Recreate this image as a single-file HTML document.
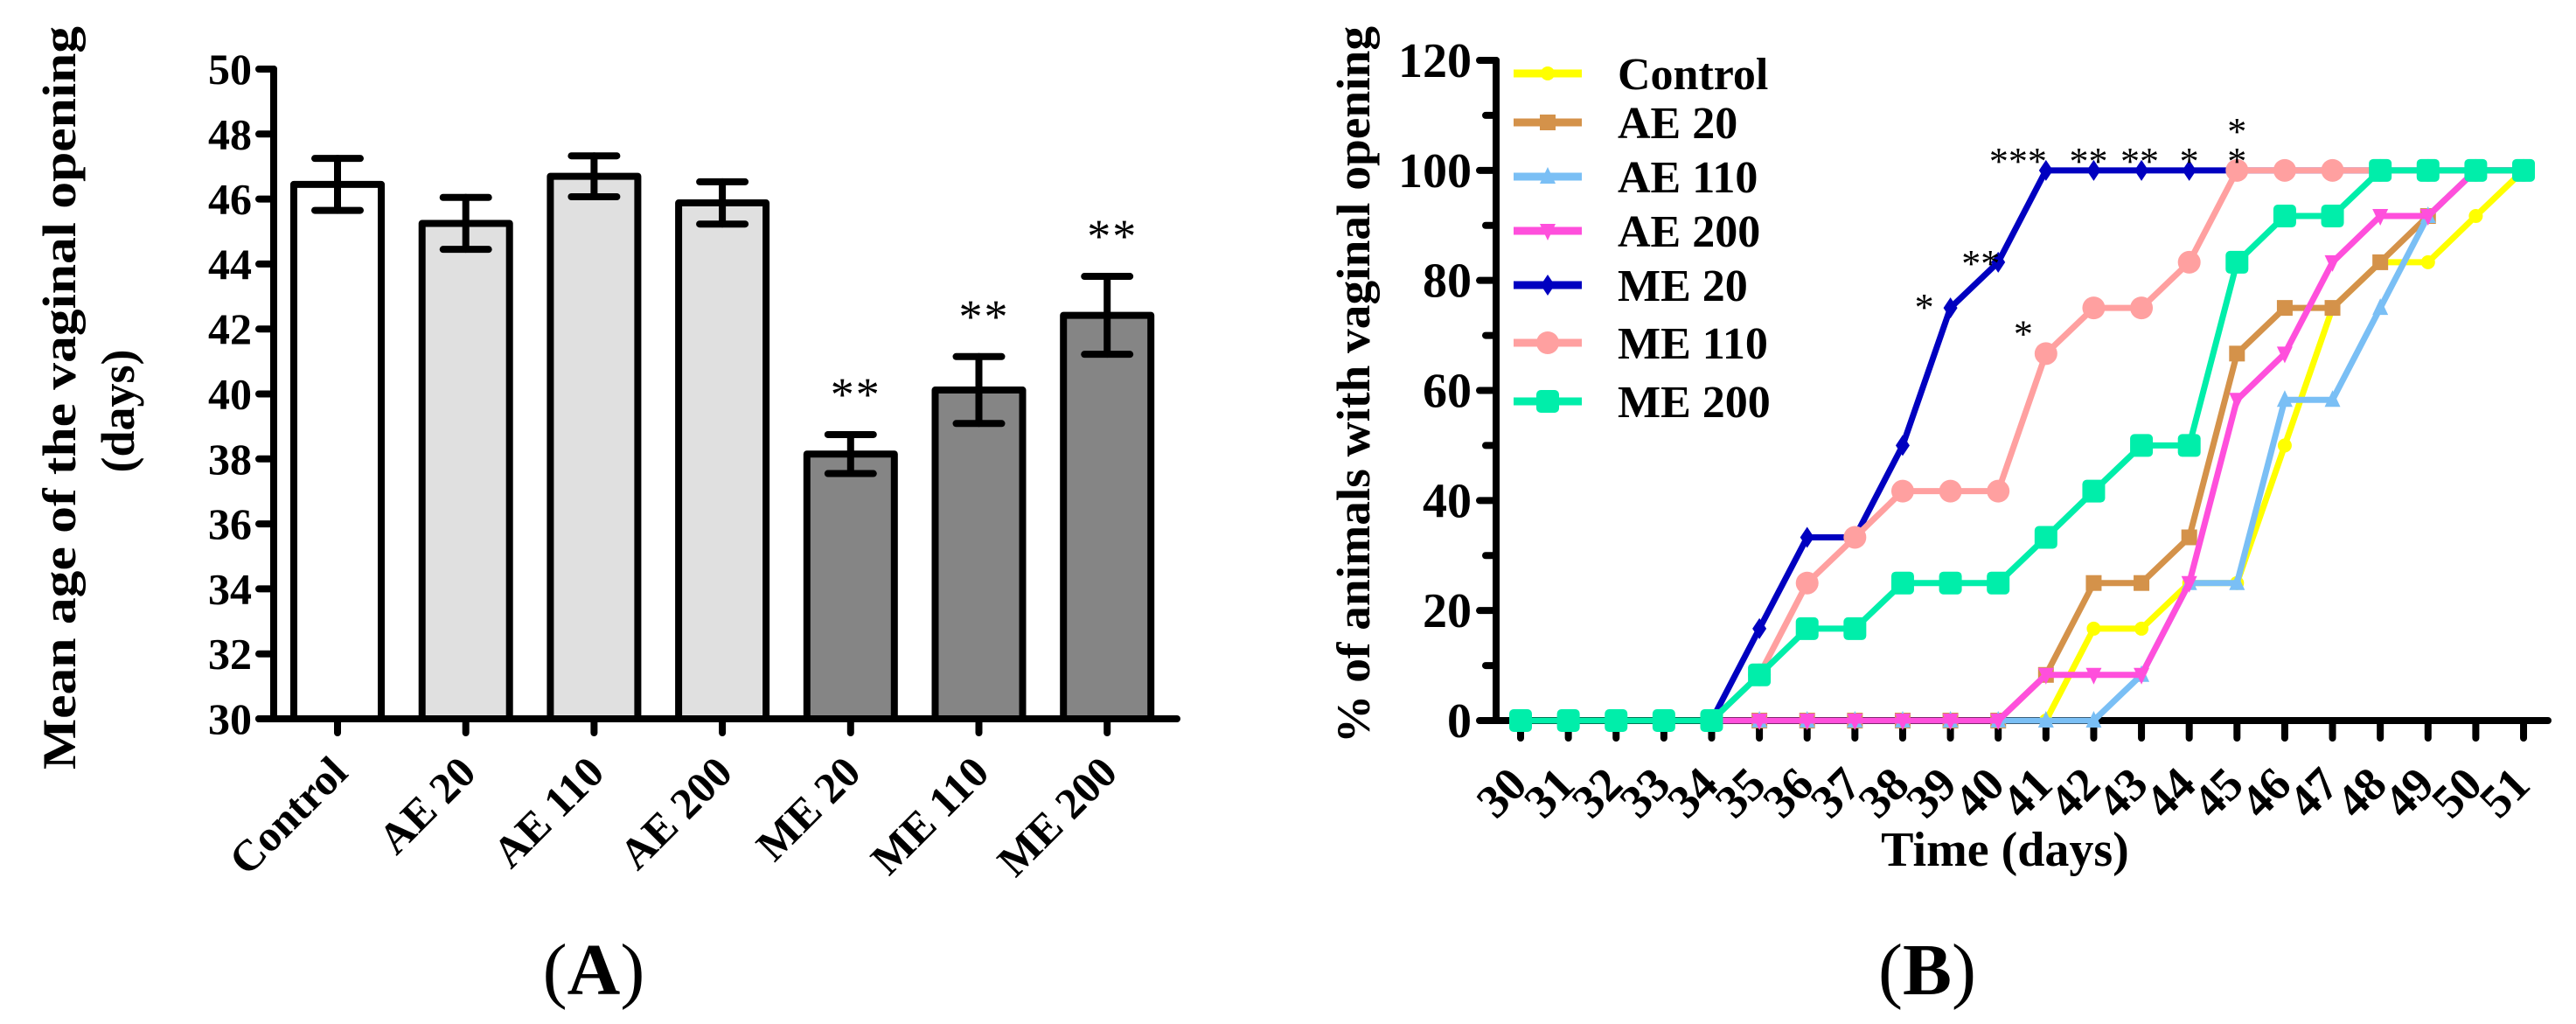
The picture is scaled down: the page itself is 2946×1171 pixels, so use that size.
<!DOCTYPE html>
<html><head><meta charset="utf-8"><style>
html,body{margin:0;padding:0;background:#fff;}
svg{display:block;font-family:"Liberation Serif",serif;}
</style></head><body>
<svg id="fig" width="2946" height="1171" viewBox="0 0 2946 1171" xmlns="http://www.w3.org/2000/svg">
<g id="chartA"></g>
<g id="chartB"></g>
</svg>
<script>
// ---- Chart A data ----
const barCategories = ["Control","AE 20","AE 110","AE 200","ME 20","ME 110","ME 200"];
const barMeans = [46.45, 45.25, 46.7, 45.88, 38.15, 40.12, 42.42];
const barErrors = [0.8, 0.8, 0.63, 0.65, 0.6, 1.03, 1.2];
const barFills = ["#ffffff","#e0e0e0","#e0e0e0","#e0e0e0","#858585","#858585","#858585"];
const barStars = ["","","","","**","**","**"];
const barYTicks = [30,32,34,36,38,40,42,44,46,48,50];

// ---- Chart B data ----
const days = [30,31,32,33,34,35,36,37,38,39,40,41,42,43,44,45,46,47,48,49,50,51];
const seriesNames = ["Control","AE 20","AE 110","AE 200","ME 20","ME 110","ME 200"];
const sControl = [0,0,0,0,0,0,0,0,0,0,0,0,16.7,16.7,25,25,50,75,83.3,83.3,91.7,100];
const sAE20 = [0,0,0,0,0,0,0,0,0,0,0,8.3,25,25,33.3,66.7,75,75,83.3,91.7,100,100];
const sAE110 = [0,0,0,0,0,0,0,0,0,0,0,0,0,8.3,25,25,58.3,58.3,75,91.7,100,100];
const sAE200 = [0,0,0,0,0,0,0,0,0,0,0,8.3,8.3,8.3,25,58.3,66.7,83.3,91.7,91.7,100,100];
const sME20 = [0,0,0,0,0,16.7,33.3,33.3,50,75,83.3,100,100,100,100,100,100,100,100,100,100,100];
const sME110 = [0,0,0,0,0,8.3,25,33.3,41.7,41.7,41.7,66.7,75,75,83.3,100,100,100,100,100,100,100];
const sME200 = [0,0,0,0,0,8.3,16.7,16.7,25,25,25,33.3,41.7,50,50,83.3,91.7,91.7,100,100,100,100];
const lineYTicks = [0,20,40,60,80,100,120];
const starDays = [39,40,41,42,43,44,45,45];
const starValues = [75,83.3,100,100,100,100,100,100];
const starTexts = ["*","**","***","**","**","*","*","*"];
const starMe110Day = [41]; const starMe110Val = [66.7];

const NS="http://www.w3.org/2000/svg";
function mk(tag, attrs, parent, text){
  const e=document.createElementNS(NS,tag);
  for(const k in attrs) e.setAttribute(k,attrs[k]);
  if(text!==undefined) e.textContent=text;
  parent.appendChild(e); return e;
}

// ===== Chart A =====
(function(){
  const g=document.getElementById('chartA');
  const x0=386, step=146.7, y30=822, y50=79, axX=313;
  const yA=v=>y30-(v-30)*(y30-y50)/20;
  const xA=i=>x0+i*step;
  const bw=100;
  barCategories.forEach((c,i)=>{
    const r=mk('rect',{x:xA(i)-bw/2,y:yA(barMeans[i]),width:bw,height:y30-yA(barMeans[i]),fill:barFills[i],stroke:'#000','stroke-width':8,'stroke-linejoin':'round'},g);
    
    
    const eg=mk('g',{stroke:'#000','stroke-width':8,'stroke-linecap':'round'},g);
    
    
    const t=yA(barMeans[i]+barErrors[i]), b=yA(barMeans[i]-barErrors[i]);
    mk('line',{x1:xA(i),x2:xA(i),y1:t,y2:b},eg);
    mk('line',{x1:xA(i)-26,x2:xA(i)+26,y1:t,y2:t},eg);
    mk('line',{x1:xA(i)-26,x2:xA(i)+26,y1:b,y2:b},eg);
    if(barStars[i]){
      const s=mk('text',{x:xA(i)+6,y:t-28,'font-size':54,'text-anchor':'middle','letter-spacing':2},g,barStars[i]);
      
      
    }
    const lx=xA(i)+14, ly=886;
    const lab=mk('text',{x:lx,y:ly,'font-size':50,'font-weight':'bold','text-anchor':'end',transform:`rotate(-45 ${lx} ${ly})`},g,c);
    
    
  });
  const ax=mk('g',{stroke:'#000','stroke-width':8,'stroke-linecap':'round'},g);
  
  
  mk('line',{x1:axX,x2:axX,y1:y50,y2:y30},ax);
  mk('line',{x1:296,x2:1346,y1:y30,y2:y30},ax);
  barCategories.forEach((c,i)=>mk('line',{x1:xA(i),x2:xA(i),y1:y30,y2:838},ax));
  barYTicks.forEach(v=>{
    mk('line',{x1:296,x2:axX,y1:yA(v),y2:yA(v)},ax);
    const t=mk('text',{x:288,y:yA(v)+17,'font-size':50,'font-weight':'bold','text-anchor':'end'},g,String(v));
    
    
  });
  const t1=mk('text',{x:0,y:0,'font-size':54,'font-weight':'bold','text-anchor':'middle',transform:'translate(86 455) rotate(-90)',textLength:850,lengthAdjust:'spacingAndGlyphs'},g,'Mean age of the vaginal opening');
  
  
  const t2=mk('text',{x:0,y:0,'font-size':54,'font-weight':'bold','text-anchor':'middle',transform:'translate(153 470) rotate(-90)'},g,'(days)');
  
  
  const pl=mk('text',{x:679,y:1137,'font-size':84,'text-anchor':'middle'},g);
  
  
  pl.innerHTML='(<tspan font-weight="bold">A</tspan>)';
})();

// ===== Chart B =====
(function(){
  const g=document.getElementById('chartB');
  const x30=1739, step=54.62, y0=824, y120=69, axX=1711;
  const xB=d=>x30+(d-30)*step;
  const yB=v=>y0-v*(y0-y120)/120;
  const ax=mk('g',{stroke:'#000','stroke-width':8,'stroke-linecap':'round'},g);
  
  
  mk('line',{x1:axX,x2:axX,y1:y120,y2:y0},ax);
  mk('line',{x1:axX,x2:2914,y1:y0,y2:y0},ax);
  days.forEach(d=>{
    mk('line',{x1:xB(d),x2:xB(d),y1:y0,y2:844},ax);
    const lx=xB(d)+10, ly=900;
    const t=mk('text',{x:lx,y:ly,'font-size':54,'font-weight':'bold','text-anchor':'end',transform:`rotate(-45 ${lx} ${ly})`},g,String(d));
    
    
  });
  lineYTicks.forEach((v,i)=>{
    mk('line',{x1:1692,x2:axX,y1:yB(v),y2:yB(v)},ax);
    if(i<lineYTicks.length-1) mk('line',{x1:1699,x2:axX,y1:yB(v+10),y2:yB(v+10)},ax);
    const t=mk('text',{x:1683,y:yB(v)+19,'font-size':56,'font-weight':'bold','text-anchor':'end'},g,String(v));
    
    
  });
  const series=[sControl,sAE20,sAE110,sAE200,sME20,sME110,sME200];
  const colors=["#ffff00","#d4924a","#7abff5","#ff4fdc","#0000c0","#ffa0a0","#00eeaa"];
  const markers=["circle","square","tri","tridown","diamond","bigcircle","bigsquare"];
  function marker(parent,type,x,y,c){
    if(type==='circle') mk('circle',{cx:x,cy:y,r:8,fill:c},parent);
    else if(type==='square') mk('rect',{x:x-9,y:y-9,width:18,height:18,fill:c},parent);
    else if(type==='tri') mk('polygon',{points:`${x},${y-11} ${x+9},${y+8} ${x-9},${y+8}`,fill:c},parent);
    else if(type==='tridown') mk('polygon',{points:`${x-9},${y-8} ${x+9},${y-8} ${x},${y+11}`,fill:c},parent);
    else if(type==='diamond') mk('polygon',{points:`${x},${y-12} ${x+8},${y} ${x},${y+12} ${x-8},${y}`,fill:c},parent);
    else if(type==='bigcircle') mk('circle',{cx:x,cy:y,r:13,fill:c},parent);
    else mk('rect',{x:x-13,y:y-13,width:26,height:26,rx:5,fill:c},parent);
  }
  series.forEach((s,k)=>{
    const sg=mk('g',{},g);
    
    
    mk('polyline',{points:s.map((v,i)=>xB(days[i])+','+yB(v)).join(' '),fill:'none',stroke:colors[k],'stroke-width':7,'stroke-linejoin':'miter'},sg);
    s.forEach((v,i)=>marker(sg,markers[k],xB(days[i]),yB(v),colors[k]));
  });
  const stg=mk('g',{'font-size':44,'text-anchor':'middle'},g);
  
  
  starDays.forEach((d,i)=>{
    let x=xB(d), y=yB(starValues[i])-22;
    if(d===39){x-=30;y=yB(starValues[i])-12;}
    if(d===40){x-=20;y=yB(starValues[i])-10;}
    if(d===41){x-=32;}
    if(d===42){x-=6;}
    if(d===43){x-=2;}
    if(d===45 && i===starDays.length-2){y-=34;}
    mk('text',{x:x,y:y+26},stg,starTexts[i]);
  });
  starMe110Day.forEach((d,i)=>mk('text',{x:xB(d)-26,y:yB(starMe110Val[i])-8},stg,'*'));
  const lg=mk('g',{},g);
  
  
  const legY=[84,140,202,264,326,392,459];
  seriesNames.forEach((n,k)=>{
    const e=mk('g',{},lg);
    
    
    mk('line',{x1:1731,x2:1809,y1:legY[k],y2:legY[k],stroke:colors[k],'stroke-width':9},e);
    marker(e,markers[k],1770,legY[k],colors[k]);
    mk('text',{x:1850,y:legY[k]+18,'font-size':52,'font-weight':'bold'},e,n);
  });
  const yt=mk('text',{x:0,y:0,'font-size':54,'font-weight':'bold','text-anchor':'middle',transform:'translate(1566 440) rotate(-90)',textLength:820,lengthAdjust:'spacingAndGlyphs'},g,'% of animals with vaginal opening');
  
  
  const xt=mk('text',{x:2293,y:990,'font-size':56,'font-weight':'bold','text-anchor':'middle'},g,'Time (days)');
  
  
  const pl=mk('text',{x:2204,y:1137,'font-size':84,'text-anchor':'middle'},g);
  
  
  pl.innerHTML='(<tspan font-weight="bold">B</tspan>)';
})();
</script>
</body></html>
